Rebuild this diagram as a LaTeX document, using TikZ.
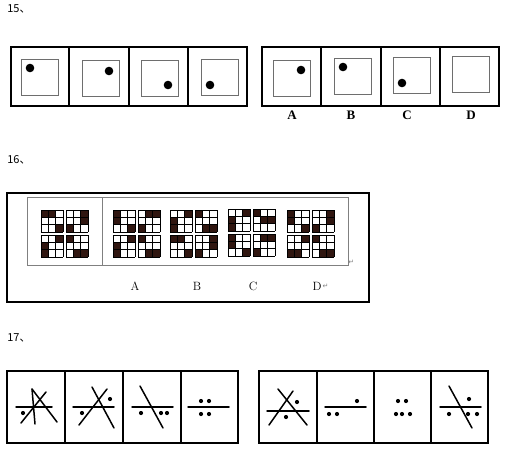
\documentclass[tikz,border=0pt]{standalone}
\usepackage{fontspec}
\newfontfamily\cjk{Noto Sans CJK SC}
\newfontfamily\symfont{DejaVu Sans}
\newfontfamily\optfont{Liberation Serif}
\usetikzlibrary{positioning}

\definecolor{tiledark}{RGB}{48,22,16}
\definecolor{innergray}{RGB}{110,110,110}

% one 3x3 grid, dark cells given as row/col
\newcommand{\tilegrid}[3]{%
  \foreach \r/\c in {#3}
    \fill[tiledark] ({#1+(\c-1)*7.33},{#2+(\r-1)*7.33}) rectangle ++(7.33,7.33);
  \foreach \k in {0,1,2,3} {
    \draw[tileline] ({#1+\k*7.33},#2) -- ++(0,22);
    \draw[tileline] (#1,{#2+\k*7.33}) -- ++(22,0);
  }
}
% four grids in a 2x2 block
\newcommand{\tileblock}[6]{%
  \tilegrid{#1}{#2}{#3}
  \tilegrid{#1+25}{#2}{#4}
  \tilegrid{#1}{#2+25}{#5}
  \tilegrid{#1+25}{#2+25}{#6}
}

\begin{document}
\begin{tikzpicture}[x=1pt, y=-1pt, semithick]

    \tikzstyle{qnum} = [anchor=west, inner sep=0pt, font=\cjk\fontsize{11}{13}\selectfont]
    \tikzstyle{optlabel} = [inner sep=0pt, font=\fontsize{12}{14}\selectfont]
    \tikzstyle{boldlabel} = [inner sep=0pt, font=\optfont\bfseries\fontsize{13}{15}\selectfont]
    \tikzstyle{outerbox} = [draw=black, line width=1.3pt]
    \tikzstyle{innerbox} = [draw=innergray, line width=1pt]
    \tikzstyle{tileline} = [draw=black, line width=0.8pt]
    \tikzstyle{stroke} = [line width=1.5pt, line cap=round]
    \tikzstyle{retmark} = [inner sep=0pt, text=gray, font=\symfont\fontsize{7}{8}\selectfont]

    \useasboundingbox (0,0) rectangle (508,461);

    % ---------- 15
    \node (q15) [qnum] at (7,9) {15、};

    \draw[outerbox] (11,47) rectangle (247,106);
    \foreach \x in {69,129,188} \draw[outerbox] (\x,47) -- (\x,106);
    \draw[outerbox] (262,47) rectangle (499,106);
    \foreach \x in {321,381,440} \draw[outerbox] (\x,47) -- (\x,106);

    \foreach \x/\y in {21/59, 82/60, 141/60, 201/59, 273/60, 334/58, 393/57, 452/56}
        \draw[innerbox] (\x,\y) rectangle ++(37,36);

    \foreach \x/\y in {30/68, 109/71, 168/85, 210/85, 301/70, 343/67, 402/83}
        \fill (\x,\y) circle (4.3);

    \node (a15) [boldlabel] at (292,115) {A};
    \node (b15) [boldlabel] at (351,115) {B};
    \node (c15) [boldlabel] at (407,115) {C};
    \node (d15) [boldlabel] at (471,115) {D};

    % ---------- 16
    \node (q16) [qnum] at (7,160) {16、};

    \draw[line width=2pt] (7,193) rectangle (369,302);
    \draw[draw=gray, line width=0.9pt] (27,197) rectangle (348,265);
    \draw[draw=gray, line width=0.9pt] (102,197) -- (102,265);
    \node (ret1) [retmark, anchor=west] at (348,262) {↵};

    \tileblock{41}{210}{1/1,1/2,3/3}{1/3,2/3,3/1}{1/3,2/1,3/1}{1/1,3/2,3/3}
    \tileblock{113}{210}{1/1,2/1,3/3}{1/2,1/3,3/1}{1/3,2/1,3/1}{1/1,3/2,3/3}
    \tileblock{170}{210}{1/3,2/1,3/1}{1/1,3/2,3/3}{1/1,1/2,3/3}{1/3,2/3,3/1}
    \tileblock{228}{209}{1/3,2/1,3/1}{1/1,2/2,2/3}{1/1,2/1,3/3}{1/2,1/3,3/1}
    \tileblock{287}{210}{1/1,2/1,3/3}{1/3,2/3,3/1}{1/3,3/1,3/2}{1/1,3/2,3/3}

    \node (a16) [optlabel] at (135,286) {A};
    \node (b16) [optlabel] at (197,286) {B};
    \node (c16) [optlabel] at (253,286) {C};
    \node (d16) [optlabel] at (317,286) {D};
    \node (ret2) [retmark, right=0.5pt of d16] {↵};

    % ---------- 17
    \node (q17) [qnum] at (7,338) {17、};

    \draw[outerbox] (7,371) rectangle (238,443);
    \foreach \x in {65,123,181} \draw[outerbox] (\x,371) -- (\x,443);
    \draw[outerbox] (259,371) rectangle (488,443);
    \foreach \x in {317,374,431} \draw[outerbox] (\x,371) -- (\x,443);

    % horizontal strokes
    \foreach \a/\b/\y in {16/52/407, 73/114/407, 132/173/407, 188/229/407,
                          267/309/411, 325/366/407, 440/481/407}
        \draw[stroke] (\a,\y) -- (\b,\y);

    % slanted strokes
    \foreach \xa/\ya/\xb/\yb in {32/389/35/424, 32/389/57/422, 46/392/21/423,
                                 92/387/114/428, 107/389/79/425,
                                 140/386/163/428,
                                 278/389/307/425, 293/391/269/425,
                                 449/386/472/428}
        \draw[stroke] (\xa,\ya) -- (\xb,\yb);

    % dots
    \foreach \x/\y in {23/413,
                       110/399, 82/413,
                       141/413, 161/413, 167/413,
                       201/401, 209/401, 201/414, 209/414,
                       297/402, 286/417,
                       357/401, 329/414, 337/414,
                       398/401, 406/401, 396/414, 402/414, 410/414,
                       469/399, 449/414, 468/414, 477/414}
        \fill (\x,\y) circle (2.1);

\end{tikzpicture}
\end{document}
